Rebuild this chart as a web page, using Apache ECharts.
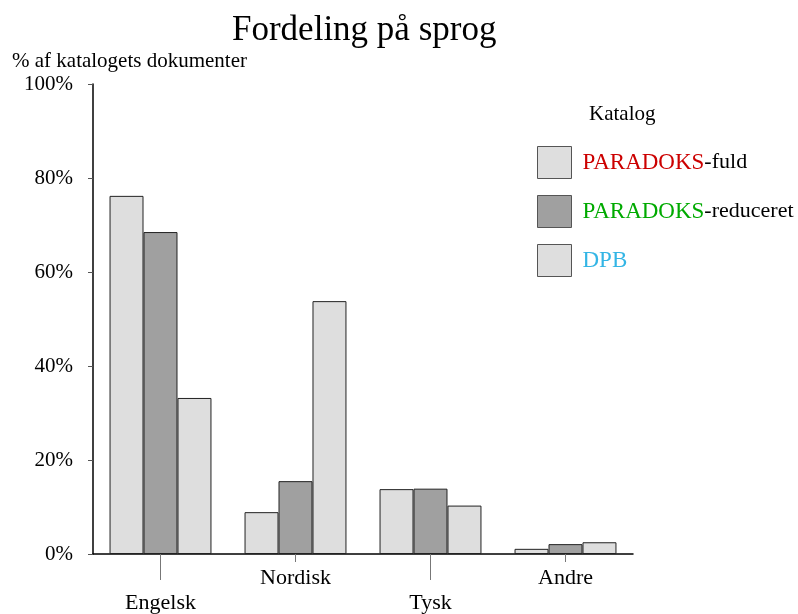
<!DOCTYPE html>
<html>
<head>
<meta charset="utf-8">
<script src="https://cdn.jsdelivr.net/npm/echarts@6/dist/echarts.min.js"></script>
<style>html,body{margin:0;padding:0;background:#fff}#c{width:798px;height:614px}</style>
</head>
<body>
<div id="c"></div>
<script>
var categories = ['Engelsk', 'Nordisk', 'Tysk', 'Andre'];
var seriesNames = ['PARADOKS-fuld', 'PARADOKS-reduceret', 'DPB'];
var fuld = [76.2, 8.9, 13.8, 1.1];
var reduceret = [68.5, 15.5, 13.9, 2.1];
var dpb = [33.2, 53.8, 10.3, 2.5];
var yTicks = [0, 20, 40, 60, 80, 100];

var font = '"Liberation Serif", "DejaVu Serif", serif';
var chart = echarts.init(document.getElementById('c'));

function barSeries(name, data, color) {
  return {
    name: name, type: 'bar', data: data,
    barGap: '0%', barCategoryGap: '24.5%',
    itemStyle: { color: color, borderColor: '#222', borderWidth: 1 }
  };
}

chart.setOption({
  animation: false,
  textStyle: { fontFamily: font },
  title: [
    { text: 'Fordeling på sprog', left: 232, top: 13, padding: 0, textStyle: { fontFamily: font, fontSize: 35, fontWeight: 'normal', color: '#000' } },
    { text: '% af katalogets dokumenter', left: 12, top: 51, padding: 0, textStyle: { fontFamily: font, fontSize: 21, fontWeight: 'normal', color: '#000' } },
    { text: 'Katalog', left: 589, top: 104, padding: 0, textStyle: { fontFamily: font, fontSize: 21, fontWeight: 'normal', color: '#000' } }
  ],
  legend: {
    orient: 'vertical', left: 537, top: 146, padding: 0,
    itemWidth: 34, itemHeight: 32, itemGap: 16,
    icon: 'rect',
    data: seriesNames,
    itemStyle: { borderColor: '#555', borderWidth: 1 },
    formatter: function (n) {
      if (n === 'PARADOKS-fuld') return '{r|PARADOKS}-fuld';
      if (n === 'PARADOKS-reduceret') return '{g|PARADOKS}-reduceret';
      return '{b|DPB}';
    },
    textStyle: {
      fontFamily: font, fontSize: 22, color: '#000', padding: [0, 0, 0, 6],
      rich: {
        r: { fontFamily: font, fontSize: 23, color: '#cc0000', textShadowColor: '#400', textShadowOffsetX: 1, textShadowOffsetY: 1 },
        g: { fontFamily: font, fontSize: 23, color: '#00aa00', textShadowColor: '#030', textShadowOffsetX: 1, textShadowOffsetY: 1 },
        b: { fontFamily: font, fontSize: 23, color: '#33b5e5', textShadowColor: '#024', textShadowOffsetX: 1, textShadowOffsetY: 1 }
      }
    }
  },
  grid: { left: 93, right: 165, top: 84, bottom: 60, containLabel: false, outerBoundsMode: 'none' },
  xAxis: [
    {
      type: 'category', data: categories, position: 'bottom',
      axisLine: { lineStyle: { color: '#000', width: 1.5 } },
      axisTick: { show: true, alignWithLabel: true, length: 8, interval: 0, lineStyle: { color: '#777' } },
      axisLabel: {
        interval: 0, margin: 12, color: '#000', fontFamily: font, fontSize: 22, lineHeight: 25,
        formatter: function (v, i) { return i % 2 === 0 ? '\n' + v : v; }
      }
    },
    {
      type: 'category', data: categories, position: 'bottom', gridIndex: 0,
      axisLine: { show: false },
      axisTick: { show: true, alignWithLabel: true, length: 26, interval: 1, lineStyle: { color: '#777' } },
      axisLabel: { show: false }
    }
  ],
  yAxis: {
    type: 'value', min: 0, max: 100, interval: 20,
    axisLine: { show: true, lineStyle: { color: '#000', width: 1.5 } },
    axisTick: { show: true, length: 5, lineStyle: { color: '#555' } },
    splitLine: { show: false },
    axisLabel: { margin: 20, color: '#000', fontFamily: font, fontSize: 21, formatter: function (v) { return yTicks.indexOf(v) >= 0 ? v + '%' : ''; } }
  },
  series: [
    barSeries(seriesNames[0], fuld, '#dedede'),
    barSeries(seriesNames[1], reduceret, '#a0a0a0'),
    barSeries(seriesNames[2], dpb, '#dedede')
  ]
});
</script>
</body>
</html>
